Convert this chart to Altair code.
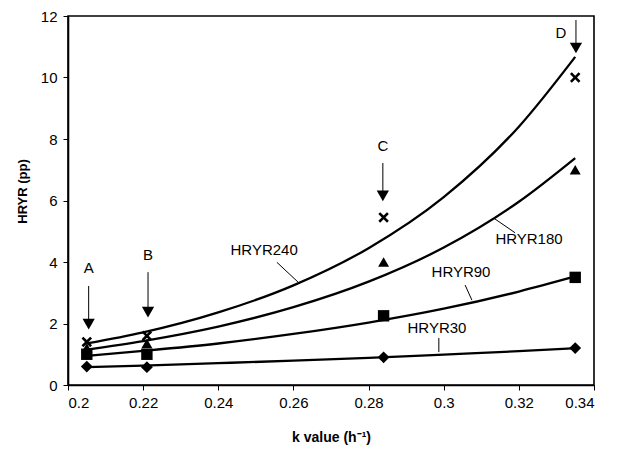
import altair as alt
import pandas as pd

# ---- data ----
series_names = ["HRYR30", "HRYR90", "HRYR180", "HRYR240"]
k_points = [0.205, 0.221, 0.284, 0.335]
hryr30_pts = [0.60, 0.58, 0.90, 1.20]
hryr90_pts = [1.00, 1.00, 2.25, 3.50]
hryr180_pts = [1.20, 1.35, 4.00, 7.00]
hryr240_pts = [1.40, 1.60, 5.45, 10.00]

# fitted curves
k_curve = [0.205, 0.22, 0.24, 0.26, 0.28, 0.30, 0.32, 0.335]
hryr30_curve = [0.58, 0.63, 0.71, 0.79, 0.88, 0.99, 1.10, 1.20]
hryr90_curve = [0.95, 1.11, 1.35, 1.66, 2.03, 2.48, 3.04, 3.53]
hryr180_curve = [1.15, 1.43, 1.90, 2.53, 3.36, 4.47, 5.96, 7.38]
hryr240_curve = [1.35, 1.71, 2.36, 3.24, 4.45, 6.11, 8.40, 10.67]

# arrows A-D
arrow_letters = ["A", "B", "C", "D"]
arrow_k = [0.2055, 0.2213, 0.2838, 0.3352]
arrow_top = [3.22, 3.67, 7.22, 11.87]
arrow_head = [1.98, 2.37, 6.15, 10.96]
letter_k = [0.2055, 0.2213, 0.2838, 0.3312]
letter_y = [3.80, 4.23, 7.78, 11.45]

# series labels and leader lines
label_text = ["HRYR240", "HRYR180", "HRYR90", "HRYR30"]
label_k = [0.2522, 0.3227, 0.3046, 0.2982]
label_y = [4.39, 4.75, 3.67, 1.85]
leader_k1 = [0.2556, 0.3134, 0.3057, 0.2987]
leader_y1 = [3.99, 5.42, 3.25, 1.53]
leader_k2 = [0.2612, 0.3190, 0.3075, 0.2987]
leader_y2 = [3.35, 4.95, 2.76, 1.07]

x_ticks = [0.2, 0.22, 0.24, 0.26, 0.28, 0.30, 0.32, 0.34]
y_ticks = [0, 2, 4, 6, 8, 10, 12]

# ---- tables ----
pts_map = dict(zip(series_names, [hryr30_pts, hryr90_pts, hryr180_pts, hryr240_pts]))
curve_map = dict(zip(series_names, [hryr30_curve, hryr90_curve, hryr180_curve, hryr240_curve]))

pts_df = pd.DataFrame(
    [{"series": s, "k": k, "v": v} for s in series_names for k, v in zip(k_points, pts_map[s])]
)
curve_df = pd.DataFrame(
    [{"series": s, "k": k, "v": v} for s in series_names for k, v in zip(k_curve, curve_map[s])]
)
arrow_df = pd.DataFrame({"k": arrow_k, "top": arrow_top, "head": arrow_head})
letter_df = pd.DataFrame({"k": letter_k, "v": letter_y, "t": arrow_letters})
label_df = pd.DataFrame({"k": label_k, "v": label_y, "t": label_text})
leader_df = pd.DataFrame({"k1": leader_k1, "y1": leader_y1, "k2": leader_k2, "y2": leader_y2})

FONT = "Liberation Sans"

xscale = alt.Scale(domain=[0.2, 0.34], nice=False, zero=False)
yscale = alt.Scale(domain=[0, 12], nice=False)

xaxis = alt.Axis(
    values=x_ticks, format=".2~f", title="k value (h⁻¹)", grid=False,
    tickSize=5, labelPadding=5, labelFontSize=15, titleFontSize=14,
    titleFontWeight="bold", titleX=263, titleY=52, titleBaseline="middle",
    titleAlign="center",
)
yaxis = alt.Axis(
    values=y_ticks, title="HRYR (pp)", grid=False, tickSize=5, labelPadding=6,
    labelFontSize=15, titleFontSize=13, titleFontWeight="bold",
    titleAngle=270, titleX=-46, titleY=175, titleAlign="center",
    titleBaseline="middle",
)

X = alt.X("k:Q", scale=xscale, axis=xaxis)
Y = alt.Y("v:Q", scale=yscale, axis=yaxis)

curves = alt.Chart(curve_df).mark_line(
    interpolate="monotone", color="black", strokeWidth=2.3
).encode(x=X, y=Y, detail="series:N")

x_marker = "M-1,-0.65L-0.65,-1L0,-0.35L0.65,-1L1,-0.65L0.35,0L1,0.65L0.65,1L0,0.35L-0.65,1L-1,0.65L-0.35,0Z"

points = alt.Chart(pts_df).mark_point(filled=True, color="black", opacity=1).encode(
    x="k:Q",
    y="v:Q",
    shape=alt.Shape(
        "series:N",
        scale=alt.Scale(domain=series_names,
                        range=["diamond", "square", "triangle-up", x_marker]),
        legend=None,
    ),
    size=alt.Size(
        "series:N",
        scale=alt.Scale(domain=series_names, range=[140, 110, 140, 100]),
        legend=None,
    ),
)

shafts = alt.Chart(arrow_df).mark_rule(color="black", strokeWidth=1).encode(
    x="k:Q", y="top:Q", y2="head:Q"
)
heads = alt.Chart(arrow_df).mark_point(
    shape="triangle-down", filled=True, color="black", size=150, opacity=1
).encode(x="k:Q", y="head:Q")

letters = alt.Chart(letter_df).mark_text(
    font=FONT, fontSize=15, color="black", baseline="middle", align="center"
).encode(x="k:Q", y="v:Q", text="t:N")

labels = alt.Chart(label_df).mark_text(
    font=FONT, fontSize=15, color="black", baseline="middle", align="center"
).encode(x="k:Q", y="v:Q", text="t:N")

leaders = alt.Chart(leader_df).mark_rule(color="black", strokeWidth=1).encode(
    x="k1:Q", y="y1:Q", x2="k2:Q", y2="y2:Q"
)

chart = alt.layer(
    curves, leaders, shafts, heads, points, letters, labels
).properties(
    width=526, height=369,
    autosize=alt.AutoSizeParams(type="none"),
    padding={"left": 68, "top": 16, "right": 24, "bottom": 64},
    background="white",
).configure_view(
    stroke="black", strokeWidth=1.6
).configure_axis(
    domainColor="black", domainWidth=1.6, tickColor="black", tickWidth=1,
    labelColor="black", titleColor="black", labelFont=FONT, titleFont=FONT,
)

chart.save("out.html", embed_options={"renderer": "svg", "actions": False})
